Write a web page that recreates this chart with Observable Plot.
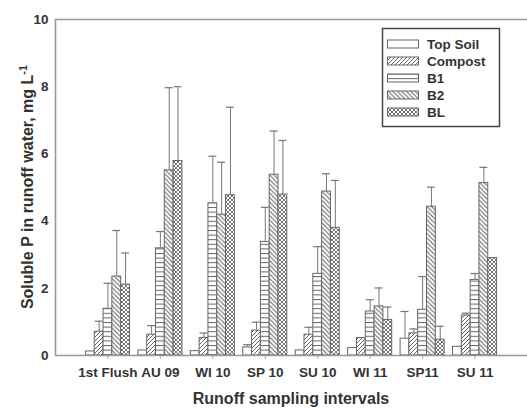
<!DOCTYPE html>
<html>
<head>
<meta charset="utf-8">
<script src="https://cdn.jsdelivr.net/npm/d3@7"></script>
<script src="https://cdn.jsdelivr.net/npm/@observablehq/plot@0.6"></script>
<style>
  html, body { margin: 0; padding: 0; background: white; }
</style>
</head>
<body>
<div id="chart"></div>
<script>
// ---- data ----
const intervals = ["1st Flush", "AU 09", "WI 10", "SP 10", "SU 10", "WI 11", "SP11", "SU 11"];
const seriesNames = ["Top Soil", "Compost", "B1", "B2", "BL"];
const patternIds = ["pTop", "pCompost", "pB1", "pB2", "pBL"];

const topSoil    = [0.12, 0.15, 0.13, 0.24, 0.15, 0.22, 0.50, 0.26];
const topSoilTop = [null, null, null, 0.32, null, null, 1.31, null];
const compost    = [0.71, 0.62, 0.52, 0.74, 0.62, 0.52, 0.66, 1.19];
const compostTop = [1.02, 0.89, 0.67, 0.99, 0.84, null, 0.79, 1.26];
const b1         = [1.39, 3.19, 4.53, 3.38, 2.43, 1.31, 1.36, 2.25];
const b1Top      = [2.15, 3.69, 5.93, 4.41, 3.24, 1.66, 2.35, 2.44];
const b2         = [2.35, 5.51, 4.19, 5.38, 4.88, 1.46, 4.43, 5.13];
const b2Top      = [3.72, 7.97, 5.75, 6.68, 5.41, 2.01, 5.01, 5.60];
const bl         = [2.11, 5.79, 4.77, 4.79, 3.80, 1.06, 0.47, 2.90];
const blTop      = [3.05, 8.00, 7.39, 6.40, 5.21, 1.44, 0.87, null];

const yTicks = [0, 2, 4, 6, 8, 10];

// ---- table built from arrays ----
const means = [topSoil, compost, b1, b2, bl];
const tops = [topSoilTop, compostTop, b1Top, b2Top, blTop];
const w = 0.168; // bar width in group units
const rows = [];
intervals.forEach((iv, g) => {
  seriesNames.forEach((s, k) => {
    const c = (g + 1) + (k - 2) * w;
    rows.push({interval: iv, series: s, value: means[k][g], top: tops[k][g],
               x1: c - w / 2, x2: c + w / 2, xc: c, fill: `url(#${patternIds[k]})`});
  });
});
const errs = rows.filter(d => d.top != null && d.top > d.value);

const font = "'Liberation Sans', Arial, sans-serif";
const hatch = "#666";

// pattern definitions, legend and axis titles, as a custom render mark
function decorations() {
  const g = d3.create("svg:g");
  const defs = g.append("defs");
  defs.append("pattern").attr("id", "pTop").attr("patternUnits", "userSpaceOnUse").attr("width", 4).attr("height", 4)
    .append("rect").attr("width", 4).attr("height", 4).attr("fill", "white");
  let p = defs.append("pattern").attr("id", "pCompost").attr("patternUnits", "userSpaceOnUse").attr("width", 4).attr("height", 4);
  p.append("rect").attr("width", 4).attr("height", 4).attr("fill", "white");
  p.append("path").attr("d", "M0,4 L4,0 M-1,1 L1,-1 M3,5 L5,3").attr("stroke", hatch).attr("stroke-width", 1);
  p = defs.append("pattern").attr("id", "pB1").attr("patternUnits", "userSpaceOnUse").attr("width", 8).attr("height", 4.6);
  p.append("rect").attr("width", 8).attr("height", 4.6).attr("fill", "white");
  p.append("path").attr("d", "M0,0.5 L8,0.5").attr("stroke", hatch).attr("stroke-width", 1);
  p = defs.append("pattern").attr("id", "pB2").attr("patternUnits", "userSpaceOnUse").attr("width", 4.5).attr("height", 4.5);
  p.append("rect").attr("width", 4.5).attr("height", 4.5).attr("fill", "white");
  p.append("path").attr("d", "M0,0 L4.5,4.5 M-1,3.5 L1,5.5 M3.5,-1 L5.5,1").attr("stroke", hatch).attr("stroke-width", 1.1);
  p = defs.append("pattern").attr("id", "pBL").attr("patternUnits", "userSpaceOnUse").attr("width", 4).attr("height", 4);
  p.append("rect").attr("width", 4).attr("height", 4).attr("fill", "white");
  p.append("path").attr("d", "M0,0 L4,4 M-1,3 L1,5 M3,-1 L5,1 M0,4 L4,0 M-1,1 L1,-1 M3,5 L5,3").attr("stroke", hatch).attr("stroke-width", 0.9);

  // legend border
  g.append("rect").attr("x", 382.5).attr("y", 28.5).attr("width", 117).attr("height", 98)
    .attr("fill", "white").attr("stroke", "#444").attr("stroke-width", 1.5);
  seriesNames.forEach((s, k) => {
    const cy = 44 + k * 17;
    g.append("rect").attr("x", 387.5).attr("y", cy - 4).attr("width", 31).attr("height", 8)
      .attr("fill", `url(#${patternIds[k]})`).attr("stroke", "#666").attr("stroke-width", 1);
    g.append("text").attr("x", 427).attr("y", cy).attr("dy", "0.35em")
      .attr("text-anchor", "start")
      .attr("font-family", font).attr("font-size", 13.5).attr("font-weight", "bold").attr("fill", "#333")
      .text(s);
  });

  // axis titles
  g.append("text")
    .attr("x", 291).attr("y", 404)
    .attr("text-anchor", "middle")
    .attr("font-family", font).attr("font-size", 16).attr("font-weight", "bold").attr("fill", "#333")
    .text("Runoff sampling intervals");
  const yt = g.append("text")
    .attr("transform", "translate(33,187) rotate(-90)")
    .attr("text-anchor", "middle")
    .attr("font-family", font).attr("font-size", 16).attr("font-weight", "bold").attr("fill", "#333");
  yt.append("tspan").text("Soluble P in runoff water, mg L");
  yt.append("tspan").attr("font-size", 11).attr("dy", -6).text("-1");
  return g.node();
}

const grey = "#999";
const chart = Plot.plot({
  width: 527,
  height: 409,
  marginLeft: 55,
  marginRight: 0,
  marginTop: 19,
  marginBottom: 54,
  style: {fontFamily: font, fontSize: "13.5px", fontWeight: "bold", color: "#333", background: "white", overflow: "visible"},
  x: {domain: [0, 9], ticks: d3.range(1, 9), tickFormat: i => intervals[i - 1], tickSize: 4, tickPadding: 8, label: null},
  y: {domain: [0, 10], ticks: yTicks, tickSize: 0, tickPadding: 7, label: null},
  color: {type: "identity"},
  marks: [
    Plot.rectY(rows, {x1: "x1", x2: "x2", y: "value", fill: "fill", stroke: "#666", strokeWidth: 1, inset: 0}),
    Plot.ruleX(errs, {x: "xc", y1: "value", y2: "top", stroke: "#777", strokeWidth: 1}),
    Plot.ruleY(errs, {x1: d => d.xc - w * 0.45, x2: d => d.xc + w * 0.45, y: "top", stroke: "#777", strokeWidth: 1.2}),
    Plot.ruleY([0, 10], {stroke: grey, strokeWidth: 1.6}),
    Plot.ruleX([0], {stroke: grey, strokeWidth: 1.6}),
    decorations
  ]
});

document.getElementById("chart").appendChild(chart);
d3.select(chart).selectAll('g[aria-label="x-axis tick"] path, g[aria-label="x-axis"] path').attr("stroke", "#aaa");
</script>
</body>
</html>
